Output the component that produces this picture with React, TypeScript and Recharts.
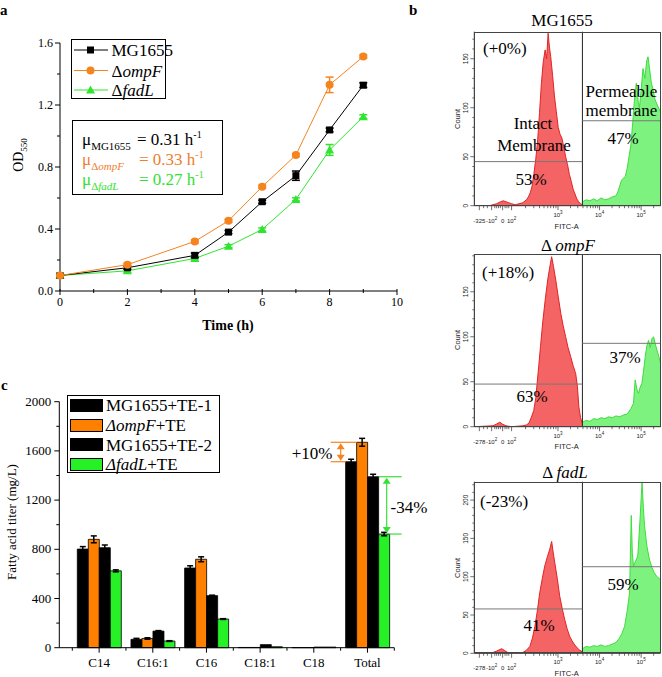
import React from 'react'
import { LineChart, Line, XAxis, YAxis, ErrorBar, BarChart, Bar, AreaChart, Area, ReferenceLine } from 'recharts'

const SERIF = '"Liberation Serif", "Times New Roman", serif'
const SANS = '"Liberation Sans", Arial, sans-serif'
const ORANGE = '#f5841f'
const GREEN = '#2fe52f'
const BAR_ORANGE = '#ff8000'
const BAR_GREEN = '#26f026'
const TXT_ORANGE = '#ef7d2e'
const TXT_GREEN = '#33e033'

// ---- panel a: growth curves
const hours = [0, 2, 4, 5, 6, 7, 8, 9]
const odMG = [0.1, 0.15, 0.23, 0.38, 0.576, 0.744, 1.039, 1.328]
const odOmpF = [0.1, 0.17, 0.32, 0.453, 0.673, 0.877, 1.33, 1.513]
const odFadL = [0.1, 0.13, 0.21, 0.289, 0.397, 0.591, 0.91, 1.125]
const errMG = [0.01, 0.01, 0.015, 0.01, 0.01, 0.03, 0.012, 0.015]
const errOmpF = [0.005, 0.01, 0.01, 0.01, 0.01, 0.01, 0.05, 0.01]
const errFadL = [0.005, 0.01, 0.01, 0.01, 0.01, 0.01, 0.035, 0.012]
const timeTicks = [0, 1, 2, 3, 4, 5, 6, 7, 8, 9, 10]
const odTicks = [0, 0.2, 0.4, 0.6, 0.8, 1.0, 1.2, 1.4, 1.6]

// ---- panel c: fatty acid titers
const acids = ['C14', 'C16:1', 'C16', 'C18:1', 'C18', 'Total']
const titerMG1 = [802, 68, 648, 2, 1, 1512]
const titerOmpF = [881, 75, 719, 2, 1, 1670]
const titerMG2 = [813, 135, 423, 25, 5, 1390]
const titerFadL = [625, 54, 233, 8, 5, 924]
const errTMG1 = [20, 8, 18, 0, 0, 20]
const errTOmpF = [28, 6, 20, 0, 0, 32]
const errTMG2 = [22, 4, 4, 0, 0, 20]
const errTFadL = [8, 3, 3, 0, 0, 14]
const titerTicks = [0, 200, 400, 600, 800, 1000, 1200, 1400, 1600, 1800, 2000]

// ---- panel b: FITC histograms, [channel, count]
const mgRed = [[0, 0], [8, 0], [10, 1], [12, 2], [14, 4], [15.5, 5], [17, 4], [18.5, 3], [20, 2], [22, 1], [24, 2], [26, 3], [28, 6], [29, 9], [30, 13], [31, 20], [32, 33], [33, 48], [34, 67], [35, 95], [36, 125], [37, 147], [38, 159], [38.8, 150], [39.6, 176], [40.3, 162], [41, 152], [42, 133], [43, 112], [44, 96], [45, 80], [46, 73], [47, 69], [48, 60], [49, 50], [50, 42], [51, 32], [52, 25], [53, 17], [54, 12], [55, 7], [56, 4], [57, 2], [57.9, 1]]
const mgGreen = [[58, 4], [60, 6], [62, 5], [64, 7], [66, 5], [68, 8], [70, 6], [72, 7], [74, 9], [76, 10], [77, 14], [78, 20], [79, 26], [80, 28], [81, 30], [82, 38], [83, 50], [84, 62], [85, 85], [86, 110], [86.9, 125], [88, 105], [88.6, 100], [89.5, 118], [90.5, 140], [91.5, 130], [92.5, 148], [93.2, 152], [94, 140], [95, 125], [96, 118], [97, 108], [98.6, 101], [100, 95]]
const ompRed = [[0, 0], [10, 1], [12, 3], [13.7, 5], [15, 3], [17, 1], [20, 0], [26, 1], [28, 2], [29.3, 4], [30.5, 10], [31.9, 18], [33, 32], [33.7, 48], [34.6, 68], [35.5, 89], [36.8, 118], [38.2, 144], [39.5, 165], [40.8, 181], [41.5, 189], [42.5, 178], [43.7, 163], [45, 145], [46.4, 126], [47.7, 112], [49, 100], [50.3, 88], [51.7, 78], [53, 68], [54.4, 59], [55.3, 45], [56.1, 22], [57, 10], [57.9, 4]]
const ompGreen = [[58, 5], [60, 7], [62, 6], [64, 9], [66, 8], [68, 10], [70, 9], [72, 11], [74, 10], [76, 12], [78, 11], [80, 13], [82, 14], [84, 20], [85.4, 26], [86.3, 52], [87.2, 42], [88.1, 37], [89, 44], [89.9, 48], [90.8, 62], [91.7, 78], [92.6, 90], [93.5, 96], [94.4, 88], [95.3, 98], [96.2, 100], [97.1, 92], [98, 85], [99, 78], [100, 70]]
const fadRed = [[0, 0], [10, 1], [12, 3], [14.7, 6], [16, 4], [18, 1], [20, 0], [26, 1], [28, 4], [29.8, 9], [31.2, 20], [32.5, 35], [33.8, 55], [35.1, 79], [36.5, 98], [37.8, 114], [39.2, 126], [40.5, 136], [41.5, 146], [42.3, 132], [43.2, 118], [44.5, 98], [45.8, 75], [47.2, 58], [48.5, 44], [49.8, 32], [51.2, 22], [52.5, 16], [53.9, 11], [55.2, 7], [56.6, 4], [57.9, 2]]
const fadGreen = [[58, 6], [60, 9], [62, 8], [64, 10], [66, 9], [68, 11], [70, 9], [72, 10], [74, 12], [76, 14], [77.9, 20], [79.2, 26], [80.6, 35], [82, 55], [83.3, 79], [84.2, 180], [84.8, 130], [85.4, 114], [86.5, 120], [87.7, 127], [88.8, 170], [90, 224], [90.7, 190], [91.3, 167], [92.6, 140], [93.9, 123], [95.3, 112], [96.6, 105], [98, 100], [100, 96]]
const histMajorCh = [2.7, 9.3, 15.2, 20, 44.9, 67.2, 89.5]
const histMajorText = [['', ''], ['-10', '2'], ['0', ''], ['10', '2'], ['10', '3'], ['10', '4'], ['10', '5']]
const histMinorCh = [5, 7, 11, 12, 13, 14, 16.5, 17.5, 18.5, 27.5, 31.9, 35, 37.4, 39.4, 41, 42.5, 43.8, 51.6, 55.5, 58.3, 60.5, 62.3, 63.7, 65, 66.2, 73.9, 77.8, 80.6, 82.8, 84.6, 86, 87.3, 88.5, 96.2]

const growth = hours.map((t, i) => ({
  t, mg: odMG[i], ompF: odOmpF[i], fadL: odFadL[i],
  mgErr: errMG[i], ompFErr: errOmpF[i], fadLErr: errFadL[i],
}))

const titers = acids.map((a, i) => ({
  a, mg1: titerMG1[i], ompF: titerOmpF[i], mg2: titerMG2[i], fadL: titerFadL[i],
  mg1Err: errTMG1[i], ompFErr: errTOmpF[i], mg2Err: errTMG2[i], fadLErr: errTFadL[i],
}))

function histData(red: number[][], green: number[][]) {
  return [
    ...red.map(([ch, v]) => ({ ch, red: v })),
    ...green.map(([ch, v]) => ({ ch, green: v })),
  ]
}

function Txt({ x, y, children, size = 17, align = 'center', style }: any) {
  const tx = align === 'center' ? '-50%' : align === 'right' ? '-100%' : '0'
  return (
    <div style={{ position: 'absolute', left: x, top: y, transform: `translate(${tx}, -50%)`, fontFamily: SERIF, fontSize: size, lineHeight: 1, whiteSpace: 'nowrap', ...style }}>
      {children}
    </div>
  )
}

// ---- ticks
function TimeTick({ x, y, payload }: any) {
  const major = payload.value % 2 === 0
  return (
    <g>
      <line x1={x} x2={x} y1={y - 2} y2={y + (major ? 4 : 2)} stroke="#000" />
      {major && <text x={x} y={y + 15} textAnchor="middle" fontSize={12} fontFamily={SERIF} fill="#000">{payload.value}</text>}
    </g>
  )
}

function OdTick({ x, y, payload }: any) {
  const major = Math.round(payload.value * 10) % 4 === 0
  return (
    <g>
      <line x1={x} x2={x - (major ? 5 : 3)} y1={y} y2={y} stroke="#000" />
      {major && <text x={x - 7} y={y + 4} textAnchor="end" fontSize={12} fontFamily={SERIF} fill="#000">{payload.value.toFixed(1)}</text>}
    </g>
  )
}

function TiterTick({ x, y, payload }: any) {
  const major = payload.value % 400 === 0
  return (
    <g>
      <line x1={x} x2={x - (major ? 5 : 3)} y1={y} y2={y} stroke="#000" />
      {major && <text x={x - 8} y={y + 4} textAnchor="end" fontSize={13} fontFamily={SERIF} fill="#000">{payload.value}</text>}
    </g>
  )
}

function AcidTick({ x, y, payload, index }: any) {
  const half = payload.offset || 26.8
  return (
    <g>
      <line x1={x} x2={x} y1={y} y2={y + 5} stroke="#000" />
      <line x1={x - half} x2={x - half} y1={y} y2={y + 3} stroke="#000" />
      {index === acids.length - 1 && <line x1={x + half} x2={x + half} y1={y} y2={y + 3} stroke="#000" />}
      <text x={x} y={y + 19} textAnchor="middle" fontSize={13} fontFamily={SERIF} fill="#000">{payload.value}</text>
    </g>
  )
}

function HistXTick({ x, y, payload, first }: any) {
  const i = histMajorCh.indexOf(payload.value)
  if (i < 0) return <line x1={x} x2={x} y1={y} y2={y + 2.5} stroke="#333" strokeWidth={0.7} />
  const [base, exp] = histMajorText[i]
  const raised = i >= 4
  return (
    <g>
      <line x1={x} x2={x} y1={y} y2={y + 4.5} stroke="#333" strokeWidth={0.7} />
      <text x={x} y={y + (raised ? 11 : 17)} textAnchor="middle" fontSize={6} fontFamily={SANS} fill="#222">
        {i === 0 ? first : base}
        {exp && <tspan dy={-3} fontSize={4.5}>{exp}</tspan>}
      </text>
    </g>
  )
}

function HistYTick({ x, y, payload }: any) {
  const v = payload.value
  const major = v % 50 === 0
  return (
    <g>
      <line x1={x} x2={x - (major ? 4 : 2)} y1={y} y2={y} stroke="#333" strokeWidth={0.7} />
      {major && (
        <text transform={`translate(${x - 6},${y}) rotate(-90)`} textAnchor="middle" fontSize={6.5} fontFamily={SANS} fill="#222">{v}</text>
      )}
    </g>
  )
}

// ---- dots
const squareDot = (p: any) => <rect key={`s${p.index}`} x={p.cx - 3.5} y={p.cy - 3.5} width={7} height={7} fill="#000" />
const circleDot = (p: any) => <circle key={`c${p.index}`} cx={p.cx} cy={p.cy} r={4} fill={ORANGE} />
const triDot = (p: any) => <polygon key={`t${p.index}`} points={`${p.cx},${p.cy - 4.5} ${p.cx - 4.5},${p.cy + 3.5} ${p.cx + 4.5},${p.cy + 3.5}`} fill={GREEN} />

function GrowthPanel() {
  return (
    <div style={{ position: 'absolute', left: 0, top: 0 }}>
      <LineChart width={420} height={330} data={growth} margin={{ top: 43, right: 23, left: 0, bottom: 0 }}>
        <XAxis dataKey="t" type="number" domain={[0, 10]} ticks={timeTicks} interval={0} height={39}
          stroke="#000" tickLine={false} tickSize={0} tickMargin={0} tick={<TimeTick />} />
        <YAxis type="number" domain={[0, 1.6]} ticks={odTicks} interval={0} width={60}
          stroke="#000" tickLine={false} tickSize={0} tickMargin={0} tick={<OdTick />} />
        <Line dataKey="fadL" stroke={GREEN} strokeWidth={1} dot={triDot} isAnimationActive={false}>
          <ErrorBar dataKey="fadLErr" width={4} stroke={GREEN} direction="y" />
        </Line>
        <Line dataKey="mg" stroke="#000" strokeWidth={1} dot={squareDot} isAnimationActive={false}>
          <ErrorBar dataKey="mgErr" width={4} stroke="#000" direction="y" />
        </Line>
        <Line dataKey="ompF" stroke={ORANGE} strokeWidth={1} dot={circleDot} isAnimationActive={false}>
          <ErrorBar dataKey="ompFErr" width={4} stroke={ORANGE} direction="y" />
        </Line>
      </LineChart>
    </div>
  )
}

function TiterPanel() {
  return (
    <div style={{ position: 'absolute', left: 0, top: 360 }}>
      <BarChart width={420} height={317} data={titers} margin={{ top: 41.7, right: 25.7, left: 0, bottom: 0 }} barGap={0}>
        <XAxis dataKey="a" height={29.3} padding={{ left: 13, right: 0 }} interval={0}
          stroke="#000" tickLine={false} tickSize={0} tickMargin={0} tick={<AcidTick />} />
        <YAxis type="number" domain={[0, 2000]} ticks={titerTicks} interval={0} width={59.3}
          stroke="#000" tickLine={false} tickSize={0} tickMargin={0} tick={<TiterTick />} />
        <Bar dataKey="mg1" fill="#000" stroke="#000" strokeWidth={0.8} barSize={11} isAnimationActive={false}>
          <ErrorBar dataKey="mg1Err" width={3} stroke="#000" />
        </Bar>
        <Bar dataKey="ompF" fill={BAR_ORANGE} stroke="#000" strokeWidth={0.8} barSize={11} isAnimationActive={false}>
          <ErrorBar dataKey="ompFErr" width={3} stroke="#000" />
        </Bar>
        <Bar dataKey="mg2" fill="#000" stroke="#000" strokeWidth={0.8} barSize={11} isAnimationActive={false}>
          <ErrorBar dataKey="mg2Err" width={3} stroke="#000" />
        </Bar>
        <Bar dataKey="fadL" fill={BAR_GREEN} stroke="#000" strokeWidth={0.8} barSize={11} isAnimationActive={false}>
          <ErrorBar dataKey="fadLErr" width={3} stroke="#000" />
        </Bar>
      </BarChart>
    </div>
  )
}

function Histogram({ top, height, marginTop, axisH, yMax, red, green, leftGate, rightGate, first }: any) {
  const yTicks: number[] = []
  for (let v = 0; v <= yMax; v += 10) yTicks.push(v)
  const plotH = height - marginTop - axisH
  return (
    <div style={{ position: 'absolute', left: 440, top }}>
      <AreaChart width={222} height={height} data={histData(red, green)} margin={{ top: marginTop, right: 1.3, left: 0, bottom: 0 }}>
        <XAxis dataKey="ch" type="number" domain={[0, 100]} ticks={[...histMajorCh, ...histMinorCh]} interval={0}
          height={axisH} stroke="#333" tickLine={false} tickSize={0} tickMargin={0} tick={<HistXTick first={first} />} />
        <YAxis type="number" domain={[0, yMax]} allowDataOverflow ticks={yTicks} interval={0} width={34.3}
          stroke="#333" tickLine={false} tickSize={0} tickMargin={0} tick={<HistYTick />} />
        <Area type="linear" dataKey="red" fill="#f46464" fillOpacity={1} stroke="#e02424" strokeWidth={1} isAnimationActive={false} />
        <Area type="linear" dataKey="green" fill="#7ef27e" fillOpacity={1} stroke="#3fdc3f" strokeWidth={1} isAnimationActive={false} />
        <ReferenceLine x={58} stroke="#222" strokeWidth={1} />
        <ReferenceLine segment={[{ x: 0, y: leftGate }, { x: 58, y: leftGate }]} stroke="#777" strokeWidth={1} />
        <ReferenceLine segment={[{ x: 58, y: rightGate }, { x: 100, y: rightGate }]} stroke="#777" strokeWidth={1} />
      </AreaChart>
      <div style={{ position: 'absolute', left: 34.3, top: marginTop, width: 186.4, height: plotH, border: '1px solid #444', boxSizing: 'border-box', pointerEvents: 'none' }} />
      <div style={{ position: 'absolute', left: 16.7, top: marginTop + plotH / 2, transform: 'translate(-50%, -50%) rotate(-90deg)', fontFamily: SANS, fontSize: 7.5, color: '#222' }}>Count</div>
      <div style={{ position: 'absolute', left: 126.7, top: marginTop + plotH + (axisH > 30 ? 19 : 20), transform: 'translate(-50%, -50%)', fontFamily: SANS, fontSize: 7.5, color: '#222' }}>FITC-A</div>
    </div>
  )
}

function Arrow({ x, y1, y2, color }: any) {
  return (
    <g>
      <line x1={x} x2={x} y1={y1 + 4} y2={y2 - 4} stroke={color} strokeWidth={1.2} />
      <polygon points={`${x},${y1} ${x - 4},${y1 + 6} ${x + 4},${y1 + 6}`} fill={color} />
      <polygon points={`${x},${y2} ${x - 4},${y2 - 6} ${x + 4},${y2 - 6}`} fill={color} />
    </g>
  )
}

export default function App() {
  // panel c value -> pixel, matches the titer axis (0..2000 over 401.7..647.7)
  const yc = (v: number) => 401.7 + (1 - v / 2000) * 246
  const tOr = yc(titerOmpF[5]), tM1 = yc(titerMG1[5]), tM2 = yc(titerMG2[5]), tFa = yc(titerFadL[5])
  const sub = { fontSize: 11, verticalAlign: 'sub' as const }
  return (
    <div style={{ position: 'absolute', left: 0, top: 0, width: 662, height: 677, background: '#fff', overflow: 'hidden' }}>
      <GrowthPanel />
      <TiterPanel />
      <Histogram top={0} height={230} marginTop={31.7} axisH={24.3} yMax={177.6} red={mgRed} green={mgGreen} leftGate={45} rightGate={86.7} first="-325" />
      <Histogram top={230} height={230} marginTop={24} axisH={33.3} yMax={192} red={ompRed} green={ompGreen} leftGate={47.4} rightGate={92.7} first="-278" />
      <Histogram top={460} height={217} marginTop={21.7} axisH={23.7} yMax={224} red={fadRed} green={fadGreen} leftGate={57.9} rightGate={113} first="-278" />

      <svg width={662} height={677} style={{ position: 'absolute', left: 0, top: 0, pointerEvents: 'none' }}>
        <line x1={330.7} x2={356.5} y1={tOr} y2={tOr} stroke={ORANGE} strokeWidth={1.2} />
        <line x1={330.7} x2={345.5} y1={tM1} y2={tM1} stroke={ORANGE} strokeWidth={1.2} />
        <Arrow x={340.7} y1={tOr + 1} y2={tM1 - 1} color={ORANGE} />
        <line x1={379} x2={401.7} y1={tM2} y2={tM2} stroke={TXT_GREEN} strokeWidth={1.2} />
        <line x1={389.5} x2={401.7} y1={tFa} y2={tFa} stroke={TXT_GREEN} strokeWidth={1.2} />
        <Arrow x={386.7} y1={tM2 + 1} y2={tFa - 1} color={TXT_GREEN} />
        {/* legend markers panel a */}
        <line x1={74} x2={108} y1={50} y2={50} stroke="#000" />
        <rect x={87} y={46.5} width={7} height={7} fill="#000" />
        <line x1={74} x2={108} y1={70.5} y2={70.5} stroke={ORANGE} />
        <circle cx={90.5} cy={70.5} r={4} fill={ORANGE} />
        <line x1={74} x2={108} y1={90} y2={90} stroke={GREEN} />
        <polygon points="90.5,85.5 86,93.5 95,93.5" fill={GREEN} />
      </svg>

      {/* panel labels */}
      <Txt x={0} y={10} size={15} align="left" style={{ fontWeight: 'bold' }}>a</Txt>
      <Txt x={409} y={10} size={15} align="left" style={{ fontWeight: 'bold' }}>b</Txt>
      <Txt x={1} y={385} size={15} align="left" style={{ fontWeight: 'bold' }}>c</Txt>

      {/* panel a text */}
      <div style={{ position: 'absolute', left: 20, top: 155, transform: 'translate(-50%, -50%) rotate(-90deg)', fontFamily: SERIF, fontSize: 14, whiteSpace: 'nowrap' }}>
        OD<span style={{ fontSize: 9, verticalAlign: 'sub' }}>550</span>
      </div>
      <Txt x={228} y={326} size={14} style={{ fontWeight: 'bold' }}>Time (h)</Txt>
      <div style={{ position: 'absolute', left: 70.7, top: 39, width: 95.3, height: 60, border: '1px solid #000', boxSizing: 'border-box' }} />
      <Txt x={111.5} y={50} align="left">MG1655</Txt>
      <Txt x={111.5} y={70.5} align="left">Δ<i>ompF</i></Txt>
      <Txt x={111.5} y={90} align="left">Δ<i>fadL</i></Txt>
      <div style={{ position: 'absolute', left: 71.7, top: 120, width: 151, height: 75, border: '1.5px solid #000', boxSizing: 'border-box' }} />
      <Txt x={82} y={141} align="left"><span style={{ display: 'inline-block', width: 55 }}>μ<span style={sub}>MG1655</span></span>= 0.31 h<sup style={{ fontSize: 10 }}>-1</sup></Txt>
      <Txt x={82} y={161} align="left" style={{ color: TXT_ORANGE }}><span style={{ display: 'inline-block', width: 57 }}>μ<span style={sub}>Δ<i>ompF</i></span></span>= 0.33 h<sup style={{ fontSize: 10 }}>-1</sup></Txt>
      <Txt x={82} y={181} align="left" style={{ color: TXT_GREEN }}><span style={{ display: 'inline-block', width: 57 }}>μ<span style={sub}>Δ<i>fadL</i></span></span>= 0.27 h<sup style={{ fontSize: 10 }}>-1</sup></Txt>

      {/* panel c text */}
      <div style={{ position: 'absolute', left: 12, top: 522, transform: 'translate(-50%, -50%) rotate(-90deg)', fontFamily: SERIF, fontSize: 13, whiteSpace: 'nowrap' }}>
        Fatty acid titer (mg/L)
      </div>
      <div style={{ position: 'absolute', left: 66.7, top: 395, width: 153.3, height: 78, border: '1px solid #000', boxSizing: 'border-box' }} />
      {[
        { y: 405, fill: '#000', label: <>MG1655+TE-1</> },
        { y: 425, fill: BAR_ORANGE, label: <><i>ΔompF</i>+TE</> },
        { y: 444.5, fill: '#000', label: <>MG1655+TE-2</> },
        { y: 464, fill: BAR_GREEN, label: <><i>ΔfadL</i>+TE</> },
      ].map((r, i) => (
        <React.Fragment key={i}>
          <div style={{ position: 'absolute', left: 70, top: r.y - 6.5, width: 33, height: 13, background: r.fill, border: '1px solid #000', boxSizing: 'border-box' }} />
          <Txt x={106} y={r.y} align="left">{r.label}</Txt>
        </React.Fragment>
      ))}
      <Txt x={312} y={453}>+10%</Txt>
      <Txt x={409} y={507}>-34%</Txt>

      {/* panel b text */}
      <Txt x={562} y={20}>MG1655</Txt>
      <Txt x={483} y={48} align="left">(+0%)</Txt>
      <Txt x={533} y={123}>Intact</Txt>
      <Txt x={534} y={145}>Membrane</Txt>
      <Txt x={531} y={179}>53%</Txt>
      <Txt x={585.5} y={91} align="left">Permeable</Txt>
      <Txt x={585.5} y={110} align="left">membrane</Txt>
      <Txt x={623} y={138}>47%</Txt>

      <Txt x={568} y={245}>Δ <i>ompF</i></Txt>
      <Txt x={482} y={272} align="left">(+18%)</Txt>
      <Txt x={532} y={396}>63%</Txt>
      <Txt x={625} y={357}>37%</Txt>

      <Txt x={565} y={472}>Δ <i>fadL</i></Txt>
      <Txt x={480} y={501} align="left">(-23%)</Txt>
      <Txt x={539} y={625}>41%</Txt>
      <Txt x={623} y={584}>59%</Txt>
    </div>
  )
}
